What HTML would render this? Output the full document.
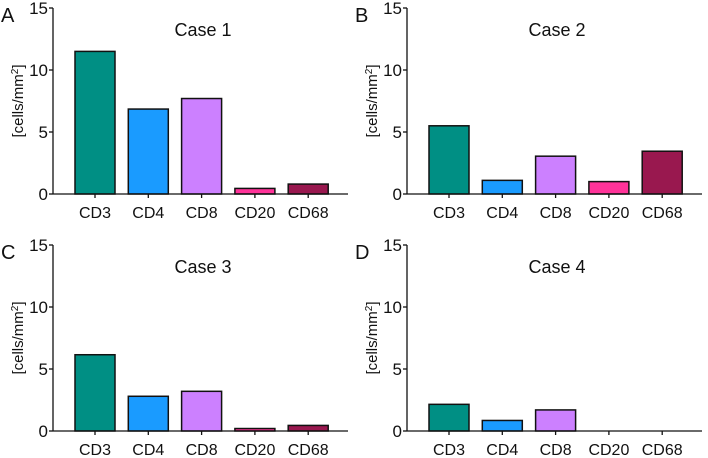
<!DOCTYPE html>
<html><head><meta charset="utf-8"><style>
html,body{margin:0;padding:0;background:#fff;}
svg{display:block;font-family:"Liberation Sans",sans-serif;}
</style></head><body>
<svg id="c" width="708" height="458"></svg>
<script>
const categories=["CD3","CD4","CD8","CD20","CD68"];
const colors=["#008f84","#1a9bff","#cc80ff","#ff3399","#99184f"];
const panelLetters=["A","B","C","D"];
const panelTitles=["Case 1","Case 2","Case 3","Case 4"];
const case1=[11.5,6.85,7.7,0.45,0.8];
const case2=[5.5,1.1,3.05,1.0,3.45];
const case3=[6.15,2.8,3.2,0.2,0.45];
const case4=[2.15,0.85,1.7,0,0];
const yTicks=[0,5,10,15];
const series=[case1,case2,case3,case4];
const NS="http://www.w3.org/2000/svg";
const svg=document.getElementById('c');
function mk(t,a,p){const e=document.createElementNS(NS,t);for(const k in a)e.setAttribute(k,a[k]);(p||svg).appendChild(e);return e;}
const offs=[[0,0],[354,0],[0,237],[354,237]];
series.forEach((vals,pi)=>{
  const [ox,oy]=offs[pi];
  const g=mk('g',{transform:`translate(${ox},${oy})`});
  
  
  const ax=53,y0=194,yTop=8,yMax=15;
  const yS=v=>y0-(v/yMax)*(y0-yTop);
  const xS=i=>95+i*53.3;
  const lt=mk('text',{x:1,y:22,'font-size':20,fill:'#111'},g);lt.textContent=panelLetters[pi];
  
  
  const tt=mk('text',{x:203,y:36,'font-size':18,'text-anchor':'middle',fill:'#111'},g);tt.textContent=panelTitles[pi];
  
  
  const yl=mk('text',{transform:`translate(23,101) rotate(-90)`,'font-size':15,'text-anchor':'middle',fill:'#111'},g);
  yl.innerHTML='[cells/mm<tspan dy="-5" font-size="10">2</tspan><tspan dy="5">]</tspan>';
  
  
  vals.forEach((v,i)=>{
    if(v<=0)return;
    const r=mk('rect',{x:xS(i)-20,y:yS(v),width:40,height:y0-yS(v),fill:colors[i],stroke:'#111','stroke-width':1.5},g);
    
    
  });
  mk('line',{x1:ax,y1:yTop,x2:ax,y2:y0,stroke:'#111','stroke-width':1.3},g);
  mk('line',{x1:ax,y1:y0,x2:348,y2:y0,stroke:'#111','stroke-width':1.3},g);
  yTicks.forEach(t=>{
    mk('line',{x1:ax-4,y1:yS(t),x2:ax,y2:yS(t),stroke:'#111','stroke-width':1.3},g);
    const l=mk('text',{x:ax-5,y:yS(t)+6,'font-size':17,'text-anchor':'end',fill:'#111'},g);l.textContent=t;
    
    
  });
  categories.forEach((c,i)=>{
    mk('line',{x1:xS(i),y1:y0,x2:xS(i),y2:y0+4,stroke:'#111','stroke-width':1.3},g);
    const l=mk('text',{x:xS(i),y:y0+24,'font-size':16,'text-anchor':'middle',fill:'#111'},g);l.textContent=c;
    
    
  });
});
</script>
</body></html>
